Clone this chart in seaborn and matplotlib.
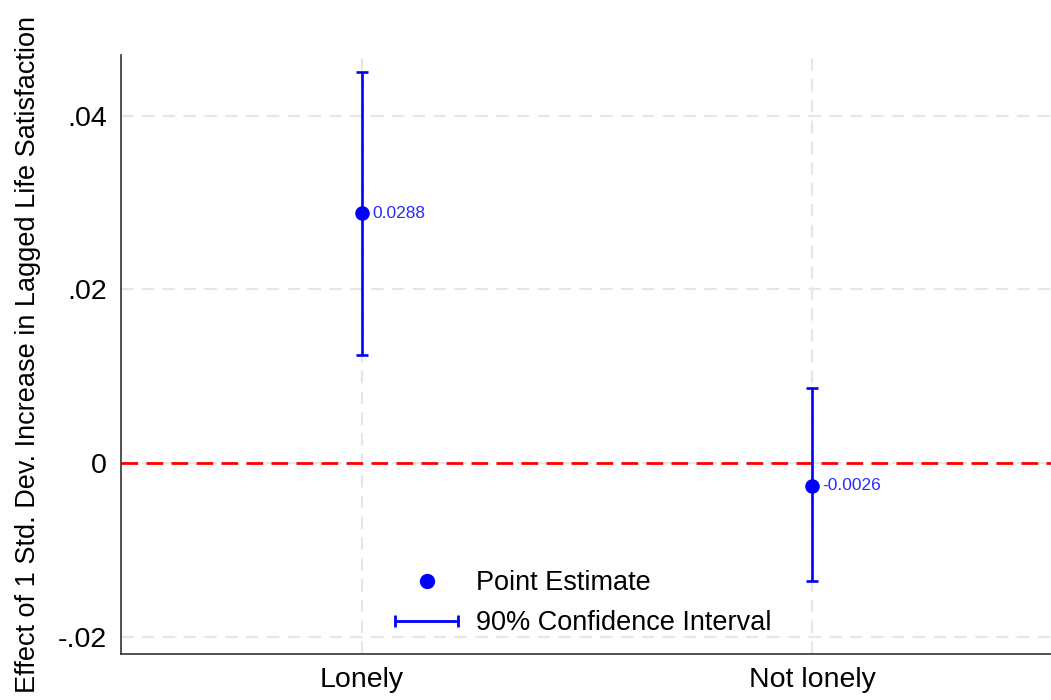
import numpy as np
import pandas as pd
import matplotlib
matplotlib.use('Agg')
import matplotlib.pyplot as plt
import seaborn as sns
from matplotlib.lines import Line2D
from matplotlib.legend_handler import HandlerLine2D

# data
groups = ['Lonely', 'Not lonely']
estimates = [0.0288, -0.0026]
ci_low = [0.01245, -0.0136]
ci_high = [0.04507, 0.00865]
est_labels = ['0.0288', '-0.0026']
yticks = [-0.02, 0, 0.02, 0.04]
ytick_labels = ['-.02', '0', '.02', '.04']

df = pd.DataFrame({'group': groups, 'est': estimates, 'lo': ci_low, 'hi': ci_high})

sns.set_style('white')
plt.rcParams['font.family'] = ['Liberation Sans', 'DejaVu Sans']
plt.rcParams['text.color'] = 'black'

fig = plt.figure(figsize=(10.51, 7), dpi=100)
ax = fig.add_axes([0.1151, 0.0657, 0.885, 0.8557])

# grid
for y in yticks:
    ax.axhline(y, color='#e6e6e6', lw=1.5, ls=(0, (6, 4)), zorder=0)
for i in range(len(groups)):
    ax.axvline(i, color='#e6e6e6', lw=1.5, ls=(0, (6, 4)), zorder=0)

ax.axhline(0, color='red', lw=2, ls=(0, (6, 3)), zorder=1)

# confidence intervals
yerr = np.array([df['est'] - df['lo'], df['hi'] - df['est']])
ax.errorbar(df['group'], df['est'], yerr=yerr, fmt='none', ecolor='blue',
            elinewidth=1.9, capsize=4, capthick=1.9, zorder=2)

sns.scatterplot(data=df, x='group', y='est', color='blue', s=110, edgecolor='blue',
                linewidth=0, ax=ax, zorder=3, legend=False)

for i, (v, lab) in enumerate(zip(estimates, est_labels)):
    ax.annotate(lab, (i, v), xytext=(7, 0), textcoords='offset points',
                va='center', ha='left', fontsize=12.5, color='#2a2aff')

ax.set_xlim(-0.536, 1.531)
ax.set_ylim(-0.022, 0.047)
ax.set_yticks(yticks)
ax.set_yticklabels(ytick_labels)
ax.set_xlabel('')
ax.set_ylabel('Effect of 1 Std. Dev. Increase in Lagged Life Satisfaction', fontsize=19.5,
              labelpad=12, color='black')
ax.tick_params(axis='both', direction='out', length=7, width=1, labelsize=20.5,
               color='#333333', labelcolor='black')
ax.tick_params(axis='x', pad=2)
ax.tick_params(axis='y', pad=3)
for s in ['top', 'right']:
    ax.spines[s].set_visible(False)
for s in ['left', 'bottom']:
    ax.spines[s].set_color('#333333')
    ax.spines[s].set_linewidth(1.2)

pt = Line2D([], [], color='blue', marker='o', ls='none', markersize=10)
ci = Line2D([], [], color='blue', marker='|', lw=2, markersize=8, markeredgewidth=2)
ax.legend([pt, ci], ['Point Estimate', '90% Confidence Interval'], frameon=False,
          loc='upper left', bbox_to_anchor=(0.3556, 0.205), bbox_transform=fig.transFigure,
          fontsize=19.5, handlelength=2.92, handletextpad=0.37, labelspacing=0.53,
          borderpad=0, numpoints=2, handler_map={pt: HandlerLine2D(numpoints=1)})

fig.savefig('out.png', dpi=100)
